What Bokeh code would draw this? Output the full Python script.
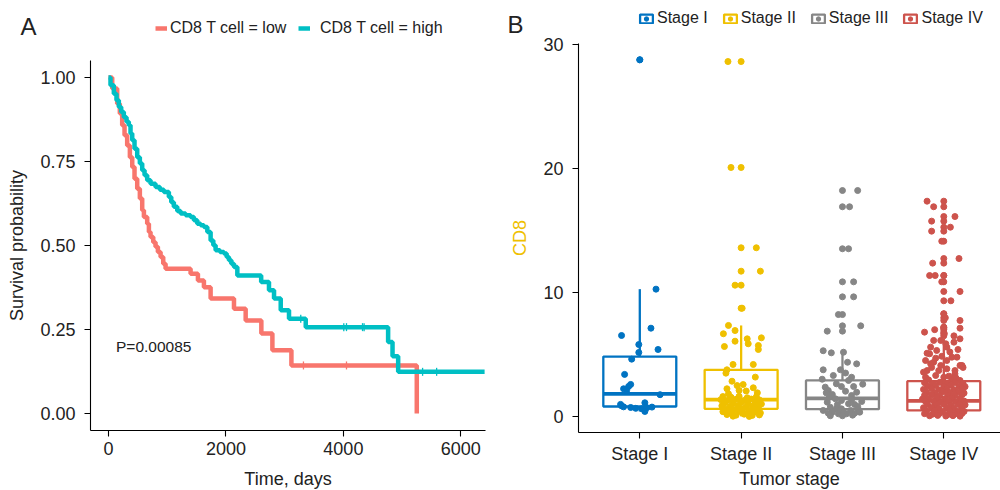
import numpy as np
from bokeh.plotting import figure
from bokeh.layouts import row
from bokeh.models import Range1d, FixedTicker, Legend, LegendItem, Label
from bokeh.embed import file_html
from bokeh.resources import INLINE

FONT = "Liberation Sans"
TXT = "#222222"

# ---------------- Panel A data (Kaplan-Meier) ----------------
low_time = [0, 63, 148, 193, 233, 273, 318, 364, 404, 443, 489, 534, 574, 603, 659, 688, 716,
            762, 801, 841, 887, 932, 972, 1398, 1523, 1625, 1739, 2137, 2336, 2603, 2791, 3115, 5250]
low_surv = [1.0, 0.967, 0.922, 0.893, 0.858, 0.828, 0.798, 0.763, 0.734, 0.699, 0.669, 0.640, 0.605,
            0.585, 0.565, 0.540, 0.525, 0.510, 0.496, 0.481, 0.466, 0.446, 0.431, 0.416, 0.396,
            0.376, 0.342, 0.312, 0.277, 0.238, 0.188, 0.143, 0.0]
high_time = [0, 34, 91, 136, 176, 216, 261, 307, 346, 375, 404, 443, 489, 534, 574, 614, 659, 716,
             801, 875, 943, 1028, 1069, 1113, 1171, 1228, 1313, 1398, 1455, 1512, 1569, 1625, 1683,
             1739, 1785, 1824, 1898, 1966, 2012, 2051, 2092, 2137, 2194, 2600, 2733, 2819, 2933,
             3074, 3359, 4762, 4837, 4933, 6405]
high_surv = [1.0, 0.977, 0.952, 0.932, 0.912, 0.897, 0.882, 0.868, 0.858, 0.833, 0.813, 0.788,
             0.763, 0.744, 0.724, 0.709, 0.694, 0.684, 0.674, 0.666, 0.659, 0.644, 0.629, 0.615,
             0.603, 0.595, 0.590, 0.585, 0.575, 0.565, 0.560, 0.555, 0.540, 0.515, 0.501, 0.486,
             0.481, 0.476, 0.466, 0.456, 0.446, 0.436, 0.411, 0.391, 0.367, 0.342, 0.307, 0.282,
             0.257, 0.213, 0.170, 0.124, 0.124]
low_censor = [3320, 4053]
high_censor = [3274, 4007, 4053, 4326, 4353, 5349, 5588]
time_ticks = [0, 2000, 4000, 6000]
surv_ticks = [0, 0.25, 0.5, 0.75, 1.0]
surv_tick_labels = ["0.00", "0.25", "0.50", "0.75", "1.00"]
group_labels = ["CD8 T cell = low", "CD8 T cell = high"]
pval_text = "P=0.00085"

# ---------------- Panel B data (box + jitter) ----------------
stages = ["Stage I", "Stage II", "Stage III", "Stage IV"]
box_q1 = [0.80, 0.61, 0.58, 0.48]
box_med = [1.82, 1.36, 1.45, 1.25]
box_q3 = [4.83, 3.76, 2.90, 2.84]
box_lo = [0.40, 0.00, 0.05, 0.02]
box_hi = [10.27, 7.34, 5.30, 6.26]

s1_out = [28.78]
s2_out = [28.64, 20.09, 13.61, 11.72, 10.59, 8.73]
s3_out = [18.23, 16.92, 13.53, 10.86, 9.65, 8.22, 7.31, 6.88]
s4_out = [17.37, 16.92, 16.13, 15.76, 15.27, 14.95, 14.14, 12.74, 12.37, 11.37, 11.37, 10.86,
          10.08, 9.33, 8.28, 7.96, 7.74, 7.20, 7.12, 7.00, 6.80, 6.67, 6.50]

s1_pts = [(0.00, 28.78), (0.16, 10.27), (-0.18, 6.53), (0.11, 7.12), (-0.01, 5.80), (0.18, 5.40),
          (-0.01, 5.16), (-0.08, 4.62), (-0.15, 3.39), (-0.09, 2.58), (-0.11, 2.42), (-0.16, 2.23),
          (-0.13, 2.10), (0.20, 1.75), (0.05, 1.10), (-0.19, 0.97), (-0.16, 0.77), (-0.09, 0.72),
          (-0.04, 0.65), (0.02, 0.62), (0.07, 0.70), (0.12, 0.75), (0.05, 0.40), (-0.18, 0.85)]
s2_pts = [(-0.13, 28.64), (-0.10, 20.09), (0.15, 13.61), (0.19, 11.72), (-0.06, 10.59), (0.01, 8.73),
          (-0.125, 7.34), (-0.175, 6.67), (-0.06, 6.93), (0.06, 6.26), (0.20, 6.34), (-0.06, 6.07),
          (-0.165, 5.64), (0.07, 5.86), (0.17, 5.72), (0.17, 5.40), (-0.08, 4.19), (0.12, 4.19),
          (-0.14, 3.76), (-0.15, 3.49), (0.14, 3.17), (-0.09, 2.84), (-0.04, 2.49), (0.02, 2.57),
          (0.12, 2.31), (-0.14, 2.23), (-0.125, 1.82), (0.05, 2.05), (0.16, 1.90), (-0.02, 2.10),
          (-0.18, 1.60), (-0.10, 1.55), (-0.02, 1.62), (0.06, 1.50), (0.15, 1.58),
          (-0.20, 1.35), (-0.13, 1.30), (-0.05, 1.38), (0.03, 1.28), (0.10, 1.40), (0.18, 1.33),
          (-0.16, 1.10), (-0.08, 1.05), (0.00, 1.12), (0.07, 1.02), (0.14, 1.08), (0.20, 1.00),
          (-0.19, 0.85), (-0.11, 0.80), (-0.03, 0.88), (0.05, 0.78), (0.12, 0.84), (0.17, 0.75),
          (-0.15, 0.60), (-0.07, 0.55), (0.01, 0.62), (0.09, 0.52), (0.16, 0.58),
          (-0.18, 0.38), (-0.10, 0.32), (-0.02, 0.40), (0.06, 0.30), (0.13, 0.36), (0.19, 0.28),
          (-0.14, 0.15), (-0.05, 0.10), (0.03, 0.18), (0.11, 0.08), (0.18, 0.12),
          (-0.08, 0.02), (0.08, 0.00)]
s3_pts = [(0.15, 18.23), (0.07, 16.92), (0.06, 13.53), (0.11, 10.86), (0.11, 9.65), (-0.04, 8.22),
          (0.18, 7.31), (-0.15, 6.88), (-0.19, 5.30), (-0.11, 5.13), (0.01, 5.18), (0.05, 4.37),
          (0.14, 4.24), (-0.19, 3.76), (-0.02, 3.76), (-0.09, 3.30), (0.09, 3.16), (0.06, 2.90),
          (-0.17, 2.36), (-0.14, 2.09), (-0.06, 2.63), (-0.01, 2.41), (0.11, 2.41), (0.14, 1.95),
          (0.09, 1.69), (-0.10, 1.77), (0.03, 2.03), (-0.15, 1.15), (-0.07, 1.42), (-0.01, 1.28),
          (0.06, 1.02), (0.12, 0.96), (-0.12, 0.74), (-0.06, 0.61), (-0.01, 0.61), (0.08, 0.48),
          (0.16, 0.53), (-0.14, 0.26), (-0.04, 0.21), (0.04, 0.21), (0.12, 0.26), (0.17, 0.34),
          (-0.10, 0.34), (0.01, 0.34), (-0.19, 0.48), (-0.16, 1.90), (0.19, 1.20), (0.15, 0.80),
          (-0.05, 0.95), (0.00, 0.05), (0.10, 0.10), (-0.12, 0.05), (0.20, 2.60), (-0.20, 3.00),
          (0.03, 3.50), (0.09, 1.35), (-0.13, 1.55)]
s4_pts = [(-0.165, 17.37), (-0.10, 16.92), (0.11, 16.13), (-0.12, 15.76), (0.065, 15.27),
          (-0.12, 14.95), (-0.02, 14.14), (0.15, 12.74), (-0.11, 12.37), (-0.14, 11.37),
          (-0.085, 11.37), (-0.02, 10.86), (0.16, 10.08), (0.07, 9.33), (0.00, 8.28), (0.015, 7.96),
          (0.16, 7.74), (-0.19, 6.80), (-0.09, 7.00), (0.16, 7.12), (0.00, 7.20), (0.005, 6.67),
          (0.10, 6.50),
          (0.10, 5.99), (0.16, 6.26), (-0.03, 6.13), (-0.13, 5.59), (-0.07, 5.32), (0.03, 5.59),
          (-0.165, 5.10), (0.08, 4.78), (0.18, 4.11), (-0.18, 4.51), (-0.10, 4.37), (-0.03, 4.11),
          (0.03, 3.84), (0.11, 3.70), (-0.165, 3.70), (-0.18, 3.16), (-0.08, 3.30), (0.00, 3.16),
          (0.08, 3.03), (0.16, 2.90), (-0.10, 6.13), (0.02, 5.86), (0.13, 4.78), (-0.13, 4.25),
          (0.03, 4.51), (0.16, 4.11), (-0.20, 3.57), (-0.05, 3.70), (0.11, 3.44), (-0.14, 5.05),
          (0.06, 5.20), (-0.02, 4.85), (0.14, 5.40), (-0.08, 4.70), (0.19, 3.95), (-0.12, 3.95),
          (0.05, 3.25), (-0.15, 2.95), (-0.01, 2.80), (0.12, 3.10),
          (-0.19, 2.72), (-0.11, 2.66), (-0.04, 2.75), (0.04, 2.68), (0.11, 2.74), (0.19, 2.65),
          (-0.16, 2.45), (-0.08, 2.50), (0.00, 2.42), (0.07, 2.52), (0.15, 2.46), (0.21, 2.40),
          (-0.20, 2.18), (-0.12, 2.24), (-0.05, 2.15), (0.03, 2.22), (0.10, 2.16), (0.18, 2.25),
          (-0.17, 1.95), (-0.09, 1.90), (-0.01, 1.98), (0.06, 1.92), (0.14, 1.96), (0.20, 1.88),
          (-0.19, 1.70), (-0.12, 1.74), (-0.04, 1.66), (0.04, 1.72), (0.11, 1.68), (0.18, 1.75),
          (-0.15, 1.45), (-0.07, 1.50), (0.01, 1.42), (0.08, 1.48), (0.16, 1.44), (-0.21, 1.40),
          (-0.18, 1.20), (-0.10, 1.25), (-0.03, 1.17), (0.05, 1.22), (0.12, 1.18), (0.20, 1.24),
          (-0.16, 0.95), (-0.08, 0.92), (0.00, 0.98), (0.07, 0.90), (0.15, 0.96), (0.21, 0.93),
          (-0.20, 0.70), (-0.12, 0.74), (-0.05, 0.66), (0.03, 0.72), (0.10, 0.68), (0.18, 0.75),
          (-0.17, 0.45), (-0.09, 0.50), (-0.01, 0.42), (0.06, 0.48), (0.14, 0.44), (0.20, 0.40),
          (-0.19, 0.22), (-0.11, 0.18), (-0.04, 0.25), (0.04, 0.15), (0.11, 0.20), (0.18, 0.24),
          (-0.14, 0.05), (-0.06, 0.08), (0.02, 0.03), (0.09, 0.06), (0.16, 0.02)]
y_ticks_b = [0, 10, 20, 30]

# ---------------- styles / layout constants ----------------
KM_COLORS = ["#F8766D", "#00BFC4"]
STAGE_COLORS = ["#0073C2", "#EFC000", "#868686", "#CD534C"]
W, H = 500, 490

# Panel A: the frame covers the whole canvas; axes are pinned at fixed data locations
A_XR = (-1839.3, 6675.8)
A_YR = (-0.2292, 1.2292)
A_XAXIS_AT, A_YAXIS_AT = -0.0506, -306.5        # data coords of the axis lines
A_XBOUNDS, A_YBOUNDS = (-306.5, 6420), (-0.0506, 1.0506)

# Panel B
B_XR = (-0.3747, 4.5596)
B_YR = (-5.981, 33.567)
B_XAXIS_AT, B_YAXIS_AT = -1.26, 0.395
B_XBOUNDS, B_YBOUNDS = (0.395, 4.5596), (-1.26, 30.1)


def style_axes(p, xlabel, ylabel, x_at, y_at, xb, yb, ylabel_color=TXT, xl_stand=9):
    p.xgrid.visible = False
    p.ygrid.visible = False
    p.outline_line_color = None
    p.background_fill_color = "white"
    p.border_fill_color = "white"
    p.title.visible = False
    for ax in (p.xaxis[0], p.yaxis[0]):
        ax.axis_line_color = "black"
        ax.axis_line_width = 1.1
        ax.major_tick_line_color = "black"
        ax.major_tick_line_width = 1.1
        ax.major_tick_out = 6
        ax.major_tick_in = 0
        ax.minor_tick_line_color = None
        ax.major_label_text_font = FONT
        ax.major_label_text_font_size = "18px"
        ax.major_label_text_color = TXT
        ax.axis_label_text_font = FONT
        ax.axis_label_text_font_size = "18px"
        ax.axis_label_text_font_style = "normal"
    xa, ya = p.xaxis[0], p.yaxis[0]
    xa.fixed_location = x_at
    ya.fixed_location = y_at
    xa.bounds = xb
    ya.bounds = yb
    xa.axis_label = xlabel
    xa.axis_label_text_color = TXT
    xa.major_label_standoff = 6
    xa.axis_label_standoff = xl_stand
    ya.axis_label = ylabel
    ya.axis_label_text_color = ylabel_color
    ya.major_label_standoff = 9
    ya.axis_label_standoff = 10


def screen_text(p, x, y, text, size, align="center"):
    # x, y in canvas pixels from the top-left corner of this figure
    p.add_layout(Label(x=x, y=H - y, x_units="screen", y_units="screen", text=text,
                       text_font=FONT, text_font_size=size, text_color=TXT,
                       text_align=align, text_baseline="middle"))


def legend_at(p, items, x_left, y_center, glyph_w, glyph_h, standoff, spacing=0):
    lab_h = 20
    lg = Legend(items=items, location=(x_left, H - (y_center + lab_h / 2)), orientation="horizontal",
                glyph_width=glyph_w, glyph_height=glyph_h, label_standoff=standoff, spacing=spacing,
                padding=0, margin=0, border_line_alpha=0, background_fill_alpha=0,
                label_text_font=FONT, label_text_font_size="16px", label_text_color=TXT,
                label_height=lab_h)
    p.add_layout(lg)


def make_fig(xr, yr):
    return figure(width=W, height=H, x_range=Range1d(*xr), y_range=Range1d(*yr),
                  output_backend="svg", toolbar_location=None,
                  min_border_left=0, min_border_right=0, min_border_top=0, min_border_bottom=0)


# ---------------- Panel A ----------------
pA = make_fig(A_XR, A_YR)
style_axes(pA, "Time, days", "Survival probability", A_XAXIS_AT, A_YAXIS_AT, A_XBOUNDS, A_YBOUNDS,
           xl_stand=10)
pA.xaxis[0].ticker = FixedTicker(ticks=time_ticks)
pA.yaxis[0].ticker = FixedTicker(ticks=surv_ticks)
pA.yaxis[0].major_label_overrides = {t: l for t, l in zip(surv_ticks, surv_tick_labels)}

r_low = pA.step(low_time, low_surv, mode="after", line_color=KM_COLORS[0], line_width=4.5)
r_high = pA.step(high_time, high_surv, mode="after", line_color=KM_COLORS[1], line_width=4.5)


def surv_at(times, survs, t):
    i = int(np.searchsorted(np.array(times), t, side="right")) - 1
    return survs[max(i, 0)]


pA.scatter(low_censor, [surv_at(low_time, low_surv, t) for t in low_censor], marker="dash",
           angle=np.pi / 2, size=8, line_color=KM_COLORS[0], line_width=1.3)
pA.scatter(high_censor, [surv_at(high_time, high_surv, t) for t in high_censor], marker="dash",
           angle=np.pi / 2, size=8, line_color=KM_COLORS[1], line_width=1.3)

pA.add_layout(Label(x=128, y=0.2, text=pval_text, text_font=FONT, text_font_size="15.5px",
                    text_color=TXT, text_align="left", text_baseline="middle"))
screen_text(pA, 28, 26, "A", "24px")
legend_at(pA, [LegendItem(label=group_labels[0], renderers=[r_low])], 155, 28, 12, 12, 3)
legend_at(pA, [LegendItem(label=group_labels[1], renderers=[r_high])], 298, 28, 12, 12, 10)

# ---------------- Panel B ----------------
pB = make_fig(B_XR, B_YR)
style_axes(pB, "Tumor stage", "CD8", B_XAXIS_AT, B_YAXIS_AT, B_XBOUNDS, B_YBOUNDS,
           ylabel_color="#EFC000", xl_stand=1)
pB.xaxis[0].ticker = FixedTicker(ticks=[1, 2, 3, 4])
pB.xaxis[0].major_label_overrides = {i + 1: s for i, s in enumerate(stages)}
pB.yaxis[0].ticker = FixedTicker(ticks=y_ticks_b)

BOX_W = 0.72
xs = [1, 2, 3, 4]
outs = [s1_out, s2_out, s3_out, s4_out]
pts = [s1_pts, s2_pts, s3_pts, s4_pts]

box_renderers = []
for i, x in enumerate(xs):
    c = STAGE_COLORS[i]
    pB.segment(x0=[x, x], y0=[box_q3[i], box_q1[i]], x1=[x, x], y1=[box_hi[i], box_lo[i]],
               line_color=c, line_width=2.3)
    rb = pB.vbar(x=[x], top=[box_q3[i]], bottom=[box_q1[i]], width=BOX_W, fill_color="white",
                 line_color=c, line_width=2.3)
    pB.segment(x0=[x - BOX_W / 2], x1=[x + BOX_W / 2], y0=[box_med[i]], y1=[box_med[i]],
               line_color=c, line_width=3.8)
    pB.scatter([x] * len(outs[i]), outs[i], size=6, fill_color=c, line_color=c)
    box_renderers.append(rb)

pt_renderers = []
for i, x in enumerate(xs):
    c = STAGE_COLORS[i]
    px = [x + d for d, _ in pts[i]]
    py = [v for _, v in pts[i]]
    pt_renderers.append(pB.scatter(px, py, size=6, fill_color=c, line_color=c))

screen_text(pB, 15, 23.5, "B", "24px")
legend_at(pB, [LegendItem(label=stages[i], renderers=[box_renderers[i], pt_renderers[i]])
               for i in range(4)], 138, 18, 16, 11, 3, spacing=14)

layout = row(pA, pB)
open("out.html", "w").write(file_html(layout, INLINE))
